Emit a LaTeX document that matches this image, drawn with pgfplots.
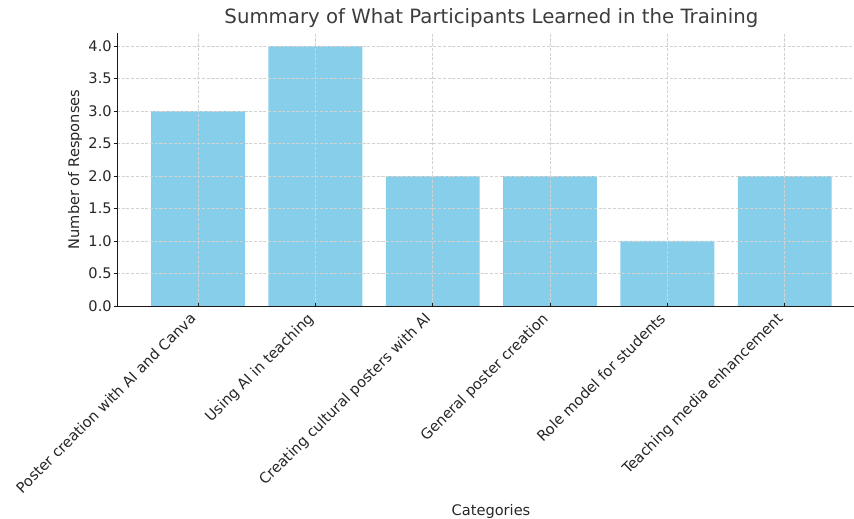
\documentclass[border=0pt]{standalone}
\usepackage{fontspec}
\setmainfont{DejaVu Sans}
\usepackage{pgfplots}
\pgfplotsset{compat=1.18}
\definecolor{skyblue}{HTML}{87CEEB}
\definecolor{txt}{HTML}{262626}
\begin{document}
\begin{tikzpicture}
\begin{axis}[
  at={(0,0)}, anchor=south west,
  scale only axis, width=530.64pt, height=196.56pt,
  xmin=-0.69, xmax=5.59, ymin=0, ymax=4.2,
  axis x line*=bottom, axis y line*=left,
  axis line style={black!90, line width=0.6pt},
  ybar, bar width=0.8,
  xtick={0,1,2,3,4,5},
  xticklabels={Poster creation with AI and Canva, Using AI in teaching, Creating cultural posters with AI, General poster creation, Role model for students, Teaching media enhancement},
  ytick={0,0.5,1,1.5,2,2.5,3,3.5,4},
  yticklabel style={/pgf/number format/fixed, /pgf/number format/fixed zerofill, /pgf/number format/precision=1, xshift=2.2pt},
  /pgf/number format/assume math mode=true,
  tick label style={font=\fontsize{10.5}{12}\selectfont, text=txt},
  xticklabel style={rotate=45, anchor=north east, inner sep=1pt, xshift=-4.6pt, yshift=4.6pt},
  tick align=outside,
  major tick length=2.5pt,
  tick style={black!90, line width=0.6pt},
  xtick style={yshift=2.5pt},
  grid=major, grid style={dash pattern=on 2.2pt off 1.2pt, gray!35, line width=0.45pt},
  axis on top,
  title={Summary of What Participants Learned in the Training},
  title style={at={(0.508,1)}, anchor=base, yshift=0.5pt, font=\fontsize{14.2}{16}\selectfont, text=txt!90},
  xlabel={Categories},
  xlabel style={at={(0.5075,0)}, anchor=base, yshift=-150.5pt, font=\fontsize{10.5}{12}\selectfont, text=txt},
  ylabel={Number of Responses},
  ylabel style={at={(0,0.5)}, anchor=center, yshift=30.2pt, font=\fontsize{10.5}{12}\selectfont, text=txt},
]
\addplot[fill=skyblue, draw=none] coordinates {(0,3) (1,4) (2,2) (3,2) (4,1) (5,2)};
\end{axis}
\pgfresetboundingbox
\useasboundingbox (-84.24pt,-153.36pt) rectangle (530.64pt,220.32pt);
\end{tikzpicture}
\end{document}
